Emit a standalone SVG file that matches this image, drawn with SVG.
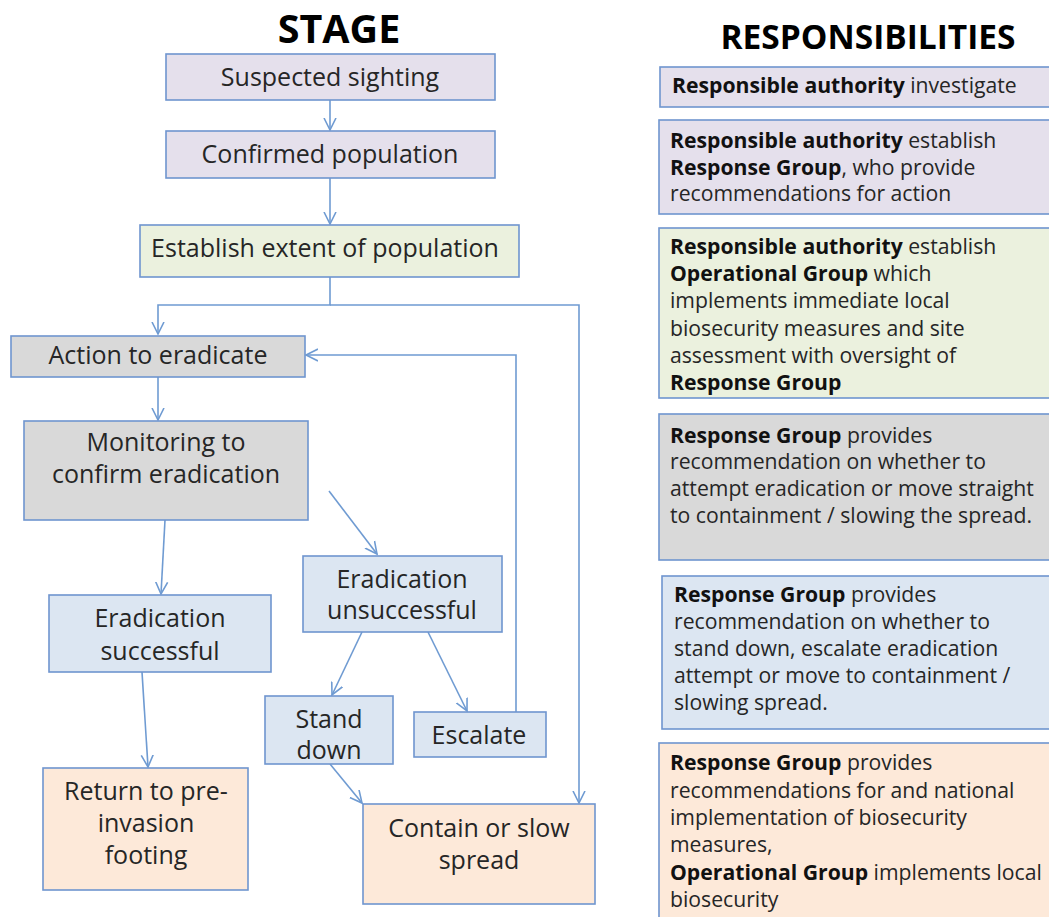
<svg xmlns="http://www.w3.org/2000/svg" width="1049" height="917" viewBox="0 0 1049 917">
<defs>
<marker id="ah" markerWidth="14" markerHeight="14" refX="12" refY="6" orient="auto" markerUnits="userSpaceOnUse" viewBox="0 0 14 12">
<path d="M0,0 L12,6 L0,12" fill="none" stroke="#6f9bd2" stroke-width="1.6"/>
</marker>
<style>
.b{stroke:#6f95cf;stroke-width:1.6}
.lav{fill:#e5e0ec}.grn{fill:#ebf1de}.gry{fill:#d9d9d9}.blu{fill:#dce6f2}.pch{fill:#fde9d9}
.t{font-family:"Open Sans","Noto Sans",sans-serif;font-size:25px;fill:#262626;text-anchor:middle}
.r{font-family:"Open Sans","Noto Sans",sans-serif;font-size:21.2px;fill:#262626}
.r tspan.k{font-weight:bold;fill:#111}
.h{font-family:"Open Sans","Noto Sans",sans-serif;font-weight:bold;fill:#000;text-anchor:middle}
.c{fill:none;stroke:#6f9bd2;stroke-width:1.6}
</style>
</defs>
<rect width="1049" height="917" fill="#fff"/>
<text class="h" x="339" y="43" font-size="39.5">STAGE</text>
<text class="h" x="868" y="49" font-size="33.5">RESPONSIBILITIES</text>

<g id="connectors">
<path class="c" d="M330,100 V130" marker-end="url(#ah)"/>
<path class="c" d="M330,178 V224" marker-end="url(#ah)"/>
<path class="c" d="M330,277 V305 H158 V334" marker-end="url(#ah)"/>
<path class="c" d="M330,305 H579 V803" marker-end="url(#ah)"/>
<path class="c" d="M158,377 V420" marker-end="url(#ah)"/>
<path class="c" d="M516,712 V355 H306" marker-end="url(#ah)"/>
<path class="c" d="M329,491 L377,554" marker-end="url(#ah)"/>
<path class="c" d="M165,520 L161,594" marker-end="url(#ah)"/>
<path class="c" d="M362,632 L332,695" marker-end="url(#ah)"/>
<path class="c" d="M428,632 L467,711" marker-end="url(#ah)"/>
<path class="c" d="M330,764 L362,803" marker-end="url(#ah)"/>
<path class="c" d="M142,672 L148,767" marker-end="url(#ah)"/>
</g>

<g id="n-suspected"><rect class="b lav" x="166" y="54" width="329" height="46"/><text class="t" x="330" y="86">Suspected sighting</text></g>
<g id="n-confirmed"><rect class="b lav" x="166" y="131" width="329" height="47"/><text class="t" x="330" y="163">Confirmed population</text></g>
<g id="n-establish"><rect class="b grn" x="140" y="225" width="379" height="52"/><text class="t" x="325" y="257">Establish extent of population</text></g>
<g id="n-action"><rect class="b gry" x="11" y="336" width="294" height="41"/><text class="t" x="158" y="364">Action to eradicate</text></g>
<g id="n-monitoring"><rect class="b gry" x="24" y="421" width="284" height="99"/><text class="t" x="166" y="451">Monitoring to</text><text class="t" x="166" y="483">confirm eradication</text></g>
<g id="n-success"><rect class="b blu" x="49" y="595" width="222" height="77"/><text class="t" x="160" y="627">Eradication</text><text class="t" x="160" y="660">successful</text></g>
<g id="n-unsuccess"><rect class="b blu" x="303" y="556" width="199" height="76"/><text class="t" x="402" y="588">Eradication</text><text class="t" x="402" y="619">unsuccessful</text></g>
<g id="n-standdown"><rect class="b blu" x="265" y="696" width="128" height="68"/><text class="t" x="329" y="728">Stand</text><text class="t" x="329" y="759">down</text></g>
<g id="n-escalate"><rect class="b blu" x="414" y="712" width="132" height="45"/><text class="t" x="479" y="744">Escalate</text></g>
<g id="n-return"><rect class="b pch" x="43" y="768" width="205" height="122"/><text class="t" x="146" y="800">Return to pre-</text><text class="t" x="146" y="832">invasion</text><text class="t" x="146" y="864">footing</text></g>
<g id="n-contain"><rect class="b pch" x="363" y="804" width="232" height="100"/><text class="t" x="479" y="837">Contain or slow</text><text class="t" x="479" y="869">spread</text></g>

<g id="r1"><rect class="b lav" x="660" y="67" width="400" height="40"/><text class="r" x="672" y="93"><tspan class="k">Responsible authority</tspan> investigate</text></g>
<g id="r2"><rect class="b lav" x="659" y="120" width="400" height="94"/><text class="r" x="670" y="148"><tspan class="k">Responsible authority</tspan> establish</text><text class="r" x="670" y="175"><tspan class="k">Response Group</tspan>, who provide</text><text class="r" x="670" y="201">recommendations for action</text></g>
<g id="r3"><rect class="b grn" x="659" y="228" width="400" height="170"/><text class="r" x="670" y="254"><tspan class="k">Responsible authority</tspan> establish</text><text class="r" x="670" y="281"><tspan class="k">Operational Group</tspan> which</text><text class="r" x="670" y="308">implements immediate local</text><text class="r" x="670" y="336">biosecurity measures and site</text><text class="r" x="670" y="363">assessment with oversight of</text><text class="r" x="670" y="390"><tspan class="k">Response Group</tspan></text></g>
<g id="r4"><rect class="b gry" x="659" y="414" width="400" height="146"/><text class="r" x="670" y="443"><tspan class="k">Response Group</tspan> provides</text><text class="r" x="670" y="469">recommendation on whether to</text><text class="r" x="670" y="496">attempt eradication or move straight</text><text class="r" x="670" y="523">to containment / slowing the spread.</text></g>
<g id="r5"><rect class="b blu" x="662" y="576" width="400" height="153"/><text class="r" x="674" y="602"><tspan class="k">Response Group</tspan> provides</text><text class="r" x="674" y="629">recommendation on whether to</text><text class="r" x="674" y="656">stand down, escalate eradication</text><text class="r" x="674" y="683">attempt or move to containment /</text><text class="r" x="674" y="710">slowing spread.</text></g>
<g id="r6"><rect class="b pch" x="659" y="743" width="400" height="190"/><text class="r" x="670" y="770"><tspan class="k">Response Group</tspan> provides</text><text class="r" x="670" y="798">recommendations for and national</text><text class="r" x="670" y="825">implementation of biosecurity</text><text class="r" x="670" y="852">measures,</text><text class="r" x="670" y="880"><tspan class="k">Operational Group</tspan> implements local</text><text class="r" x="670" y="907">biosecurity</text></g>
</svg>
